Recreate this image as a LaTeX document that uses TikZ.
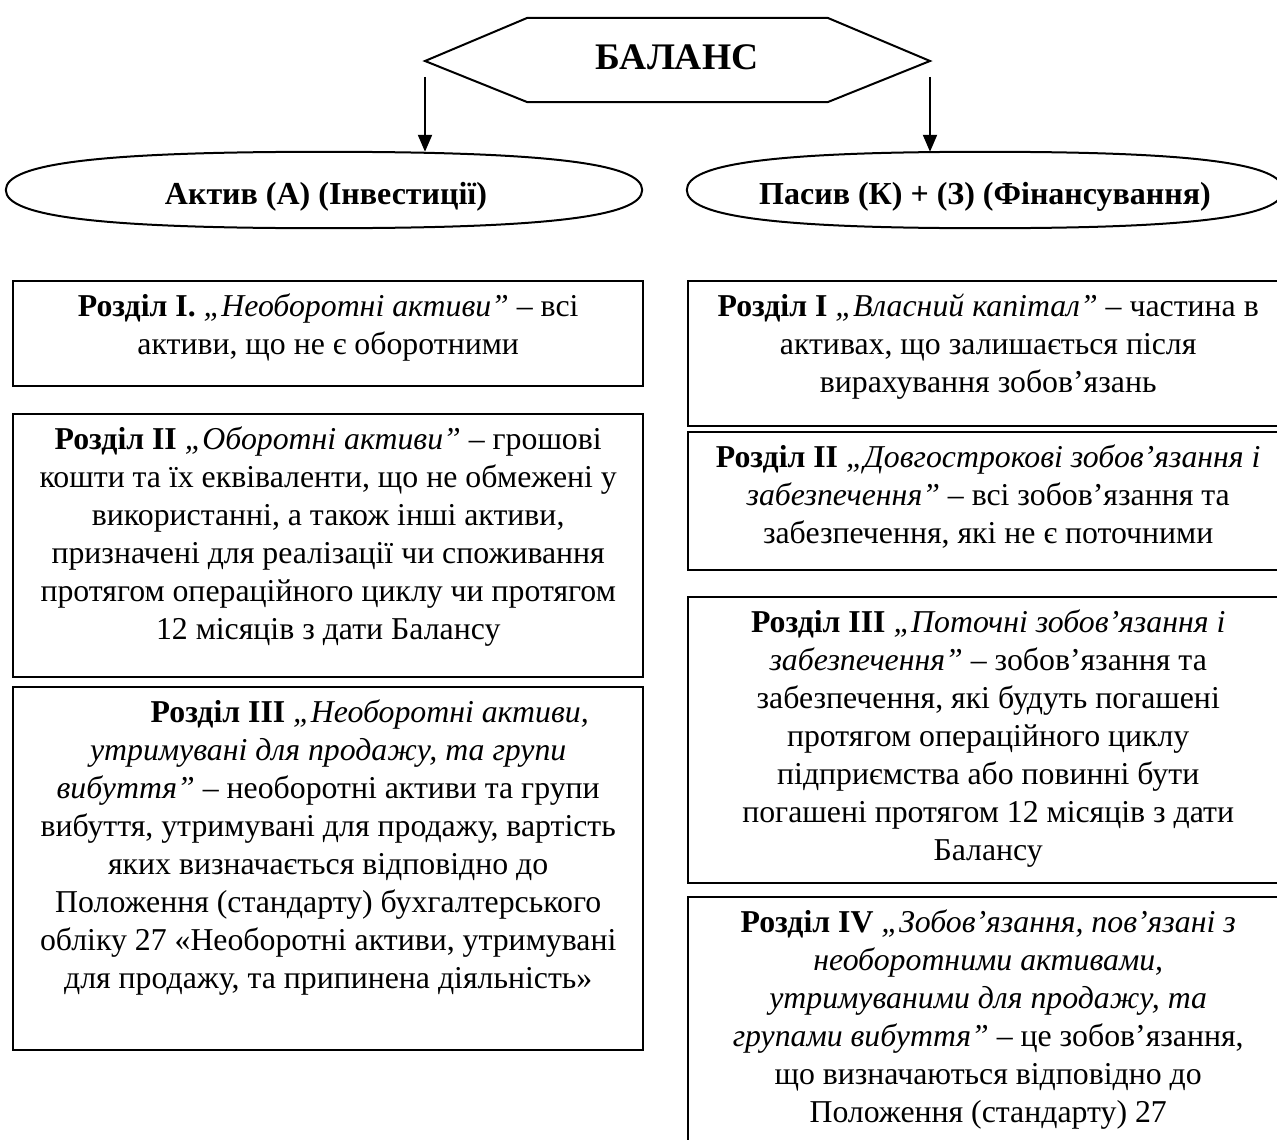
\documentclass[tikz,border=0pt]{standalone}
\usepackage{fontspec}
\setmainfont{Liberation Serif}
\usetikzlibrary{arrows.meta,calc}
\begin{document}
\begin{tikzpicture}[x=1pt,y=-1pt,
  frame/.style={draw, line width=2.4pt, rectangle, inner sep=0pt, anchor=north west},
  ovalbox/.style={rectangle, inner sep=0pt},
  ovaltext/.style={anchor=base, inner sep=0pt, font=\bfseries\fontsize{32}{36}\selectfont},
  txt/.style={align=center, inner sep=0pt, anchor=north,
    font=\fontsize{31.8}{38}\selectfont},
  arr/.style={line width=2pt, -{Triangle[length=17pt,width=14pt]}}]
\clip (0,0) rectangle (1277,1140);

% blunt oval drawn round a named box
\newcommand\ovaloutline[2]{%
  \draw[line width=2pt]
    (#1.west) .. controls ($(#1.west)!#2!(#1.north west)$) and ($(#1.north)!#2!(#1.north west)$) .. (#1.north)
    .. controls ($(#1.north)!#2!(#1.north east)$) and ($(#1.east)!#2!(#1.north east)$) .. (#1.east)
    .. controls ($(#1.east)!#2!(#1.south east)$) and ($(#1.south)!#2!(#1.south east)$) .. (#1.south)
    .. controls ($(#1.south)!#2!(#1.south west)$) and ($(#1.west)!#2!(#1.south west)$) .. (#1.west)
    -- cycle;}

% header
\draw[line width=2pt] (425,61) -- (527,18) -- (828,18) -- (930,61)
  -- (828,102) -- (527,102) -- cycle;
\node[anchor=base, inner sep=0pt, font=\bfseries\fontsize{37.5}{40}\selectfont] (balans) at (677,70) {БАЛАНС};

% the two sides of the balance
\node[ovalbox, minimum width=636pt, minimum height=76pt] (aktiv) at (324,190) {};
\node[ovalbox, minimum width=596pt, minimum height=76pt] (pasyv) at (985,190) {};
\ovaloutline{aktiv}{0.7}
\ovaloutline{pasyv}{0.7}
\node[ovaltext] (aktivt) at (326,204) {Актив (А) (Інвестиції)};
\node[ovaltext] (pasyvt) at (985,204) {Пасив (К) + (З) (Фінансування)};

\coordinate (la) at (425,77);
\coordinate (ra) at (930,77);
\draw[arr] (la) -- (aktiv.north -| la);
\draw[arr] (ra) -- (pasyv.north -| ra);

% asset sections
\node[frame, minimum width=630pt, minimum height=105pt] (l1) at (12,280) {};
\node[frame, minimum width=630pt, minimum height=263pt] (l2) at (12,413) {};
\node[frame, minimum width=630pt, minimum height=363pt] (l3) at (12,686) {};

\node[txt] (l1t) at ([yshift=-10pt]l1.north)
  {\strut\textbf{Розділ І.} \textit{„Необоротні активи”} – всі\\
   активи, що не є оборотними};
\node[txt] (l2t) at ([yshift=-10pt]l2.north)
  {\strut\textbf{Розділ ІІ} \textit{„Оборотні активи”} – грошові\\
   кошти та їх еквіваленти, що не обмежені у\\
   використанні, а також інші активи,\\
   призначені для реалізації чи споживання\\
   протягом операційного циклу чи протягом\\
   12 місяців з дати Балансу};
\node[txt] (l3t) at ([yshift=-10pt]l3.north)
  {\strut\hspace*{83pt}\textbf{Розділ ІІІ} \textit{„Необоротні активи,}\\
   \textit{утримувані для продажу, та групи}\\
   \textit{вибуття”} – необоротні активи та групи\\
   вибуття, утримувані для продажу, вартість\\
   яких визначається відповідно до\\
   Положення (стандарту) бухгалтерського\\
   обліку 27 «Необоротні активи, утримувані\\
   для продажу, та припинена діяльність»};

% equity and liability sections
\node[frame, minimum width=600pt, minimum height=145pt] (r1) at (687,280) {};
\node[frame, minimum width=600pt, minimum height=138pt] (r2) at (687,431) {};
\node[frame, minimum width=600pt, minimum height=286pt] (r3) at (687,596) {};
\node[frame, minimum width=600pt, minimum height=300pt] (r4) at (687,896) {};

\node[txt] (r1t) at ([yshift=-10pt]r1.north)
  {\strut\textbf{Розділ І} \textit{„Власний капітал”} – частина в\\
   активах, що залишається після\\
   вирахування зобов’язань};
\node[txt] (r2t) at ([yshift=-10pt]r2.north)
  {\strut\textbf{Розділ ІІ} \textit{„Довгострокові зобов’язання і}\\
   \textit{забезпечення”} – всі зобов’язання та\\
   забезпечення, які не є поточними};
\node[txt] (r3t) at ([yshift=-10pt]r3.north)
  {\strut\textbf{Розділ ІІІ} \textit{„Поточні зобов’язання і}\\
   \textit{забезпечення”} – зобов’язання та\\
   забезпечення, які будуть погашені\\
   протягом операційного циклу\\
   підприємства або повинні бути\\
   погашені протягом 12 місяців з дати\\
   Балансу};
\node[txt] (r4t) at ([yshift=-10pt]r4.north)
  {\strut\textbf{Розділ IV} \textit{„Зобов’язання, пов’язані з}\\
   \textit{необоротними активами,}\\
   \textit{утримуваними для продажу, та}\\
   \textit{групами вибуття”} – це зобов’язання,\\
   що визначаються відповідно до\\
   Положення (стандарту) 27};
\end{tikzpicture}
\end{document}
